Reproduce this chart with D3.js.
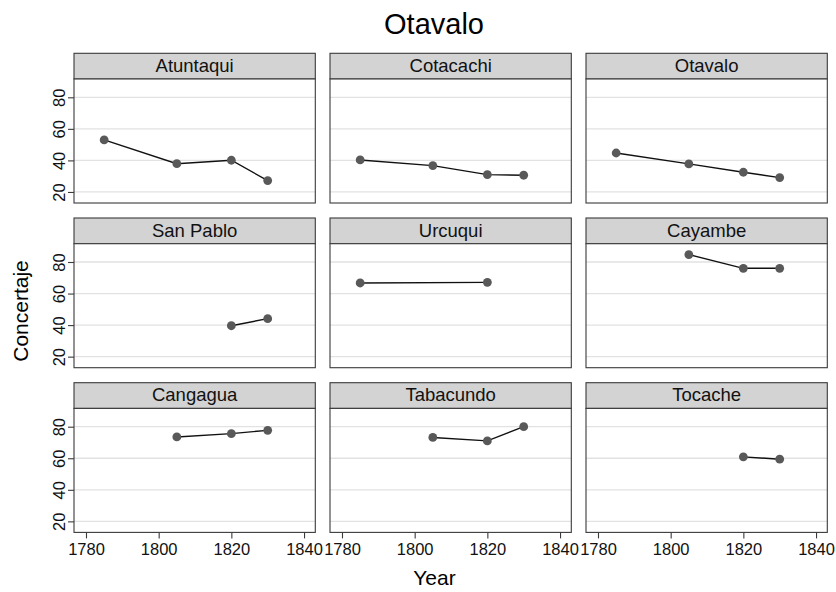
<!DOCTYPE html>
<html>
<head>
<meta charset="utf-8">
<script src="https://cdn.jsdelivr.net/npm/d3@7"></script>
<style>
  html, body { margin: 0; padding: 0; background: #fff; }
  svg { display: block; font-family: "Liberation Sans", Arial, Helvetica, sans-serif; }
</style>
</head>
<body>
<svg id="chart" width="836" height="592"></svg>
<script>
// Census years and parish names
const years = [1785, 1805, 1820, 1830];
const parishes = ["Atuntaqui", "Cotacachi", "Otavalo", "San Pablo", "Urcuqui",
                  "Cayambe", "Cangagua", "Tabacundo", "Tocache"];

// Concertaje share per parish, one value per census year (null = no data)
const atuntaqui = [53.0, 37.9, 40.1, 27.2];
const cotacachi = [40.3, 36.7, 31.0, 30.6];
const otavalo   = [44.7, 37.8, 32.5, 29.1];
const sanPablo  = [null, null, 39.6, 44.1];
const urcuqui   = [66.7, null, 67.1, null];
const cayambe   = [null, 84.7, 76.0, 76.0];
const cangagua  = [null, 73.5, 75.6, 77.7];
const tabacundo = [null, 73.2, 71.0, 80.0];
const tocache   = [null, null, 60.9, 59.4];

const seriesByParish = [atuntaqui, cotacachi, otavalo, sanPablo, urcuqui,
                        cayambe, cangagua, tabacundo, tocache];

// Axis ticks and text
const xTicks = [1780, 1800, 1820, 1840];
const yTicks = [20, 40, 60, 80];
const titleText = "Otavalo";
const xTitle = "Year";
const yTitle = "Concertaje";

// Layout
const colLeft0 = 74, colW = 241.3, colStep = 256;
const rowTop0 = 53.3, rowStep = 164.7;
const headH = 25.7, plotH = 124;

const x = d3.scaleLinear().domain([1776.7, 1843.1]).range([0, colW]);
const y = d3.scaleLinear().domain([13.0, 91.6]).range([plotH, 0]);

const svg = d3.select("#chart");

svg.append("text")
  .attr("x", 434).attr("y", 33.5)
  .attr("text-anchor", "middle")
  .attr("font-size", 29).attr("fill", "#000")
  .text(titleText);

svg.append("text")
  .attr("x", 434.5).attr("y", 585)
  .attr("text-anchor", "middle")
  .attr("font-size", 21).attr("fill", "#000")
  .text(xTitle);

svg.append("text")
  .attr("transform", "translate(28,311) rotate(-90)")
  .attr("text-anchor", "middle")
  .attr("font-size", 21).attr("fill", "#000")
  .text(yTitle);

const line = d3.line().x(d => x(d.year)).y(d => y(d.value));

parishes.forEach((name, i) => {
  const col = i % 3, row = Math.floor(i / 3);
  const left = colLeft0 + col * colStep;
  const top = rowTop0 + row * rowStep;
  const g = svg.append("g").attr("transform", `translate(${left},${top})`);

  // strip header
  g.append("rect")
    .attr("x", 0).attr("y", 0).attr("width", colW).attr("height", headH)
    .attr("fill", "#d3d3d3").attr("stroke", "#3a3a3a").attr("stroke-width", 1.1);
  g.append("text")
    .attr("x", colW / 2).attr("y", 18.6)
    .attr("text-anchor", "middle").attr("font-size", 18.5).attr("fill", "#111")
    .text(name);

  const p = g.append("g").attr("transform", `translate(0,${headH})`);

  p.append("rect")
    .attr("width", colW).attr("height", plotH).attr("fill", "#fff");

  // horizontal grid
  p.selectAll("line.grid").data(yTicks).join("line")
    .attr("class", "grid")
    .attr("x1", 0).attr("x2", colW)
    .attr("y1", d => y(d)).attr("y2", d => y(d))
    .attr("stroke", "#e2e2e2").attr("stroke-width", 1.3);

  // series
  const pts = years.map((yr, k) => ({ year: yr, value: seriesByParish[i][k] }))
    .filter(d => d.value !== null);
  p.append("path").datum(pts)
    .attr("d", line).attr("fill", "none")
    .attr("stroke", "#111").attr("stroke-width", 1.4);
  p.selectAll("circle").data(pts).join("circle")
    .attr("cx", d => x(d.year)).attr("cy", d => y(d.value))
    .attr("r", 4.4).attr("fill", "#595959");

  // plot frame
  p.append("rect")
    .attr("width", colW).attr("height", plotH)
    .attr("fill", "none").attr("stroke", "#3a3a3a").attr("stroke-width", 1.1);

  if (col === 0) {
    const ax = p.append("g").call(d3.axisLeft(y).tickValues(yTicks).tickSize(6).tickPadding(3));
    ax.select(".domain").remove();
    ax.selectAll(".tick line").attr("stroke", "#3a3a3a").attr("stroke-width", 1.1);
    ax.selectAll(".tick text")
      .attr("font-size", 16.5).attr("fill", "#111")
      .attr("font-family", "Liberation Sans, Arial, sans-serif")
      .attr("x", null).attr("dy", null)
      .attr("text-anchor", "middle")
      .attr("transform", "translate(-9.5,0) rotate(-90)");
  }
  if (row === 2) {
    const ax = p.append("g").attr("transform", `translate(0,${plotH})`)
      .call(d3.axisBottom(x).tickValues(xTicks).tickFormat(d3.format("d")).tickSize(6).tickPadding(5));
    ax.select(".domain").remove();
    ax.selectAll(".tick line").attr("stroke", "#3a3a3a").attr("stroke-width", 1.1);
    ax.selectAll(".tick text")
      .attr("font-size", 16.5).attr("fill", "#111")
      .attr("font-family", "Liberation Sans, Arial, sans-serif");
  }
});
</script>
</body>
</html>
